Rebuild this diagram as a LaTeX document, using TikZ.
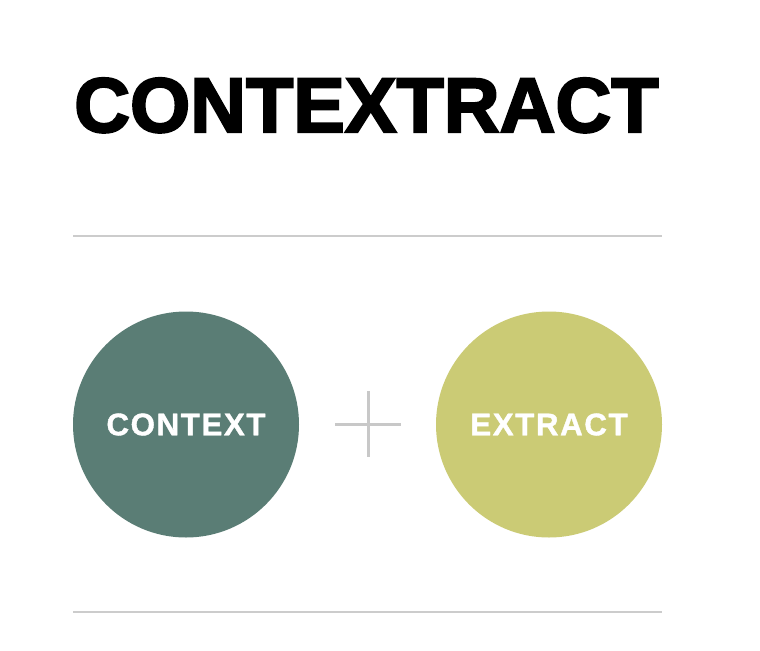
\documentclass[tikz,border=0pt]{standalone}
\usepackage{fontspec}
\setmainfont{Liberation Sans}
\newfontfamily\titlefont[FakeBold=2.8]{Liberation Sans Bold}
\newfontfamily\labelfont[LetterSpace=5,FakeBold=1.2]{Liberation Sans Bold}
\definecolor{ctxgreen}{HTML}{5A7D75}
\definecolor{extyellow}{HTML}{CBCB75}
\definecolor{rulegray}{HTML}{CCCCCC}
\definecolor{plusgray}{HTML}{C8C8C8}
\tikzset{
  rulestyle/.style={draw=rulegray, line width=1.5pt},
  bubble/.style={circle, minimum size=169.5pt, inner sep=0pt, text=white, font=\labelfont\fontsize{23.5}{26}\selectfont},
  plusline/.style={draw=plusgray, line width=2.25pt}
}
\begin{document}
\begin{tikzpicture}[x=0.75pt, y=-0.75pt]
\useasboundingbox (0,0) rectangle (760,650);
\fill[white] (0,0) rectangle (760,650);
\node[anchor=base west, inner sep=0pt, font=\titlefont\fontsize{58}{60}\selectfont] (title) at (74,132) {CONTEXTRACT};
\coordinate (r1a) at (73,236);
\coordinate (r1b) at (662,236);
\draw[rulestyle] (r1a) -- (r1b);
\node[bubble, fill=ctxgreen] (context) at (186,424.5) {CONTEXT};
\node[bubble, fill=extyellow] (extract) at (549,424.5) {EXTRACT};
\coordinate (pl) at (335,424);
\coordinate (pr) at (401,424);
\coordinate (pt) at (368,391);
\coordinate (pb) at (368,457);
\draw[plusline] (pl) -- (pr);
\draw[plusline] (pt) -- (pb);
\coordinate (r2a) at (73,612);
\coordinate (r2b) at (662,612);
\draw[rulestyle] (r2a) -- (r2b);
\end{tikzpicture}
\end{document}
